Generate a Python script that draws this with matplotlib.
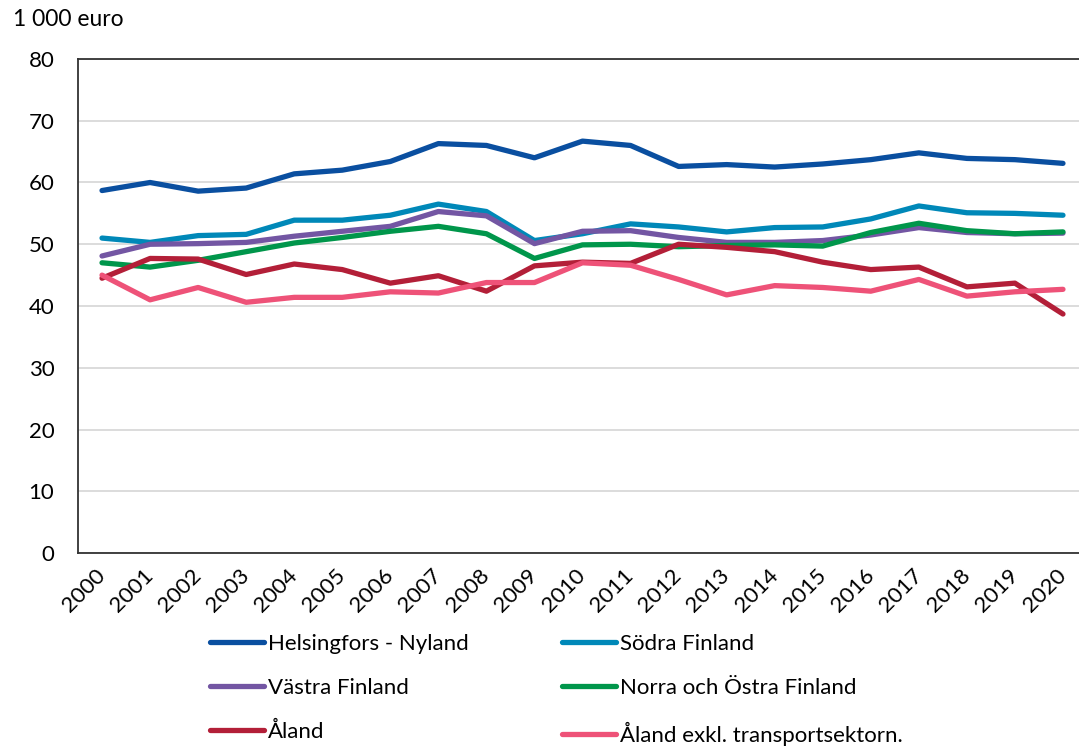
import numpy as np
import matplotlib
matplotlib.use("Agg")
import matplotlib.pyplot as plt

plt.rcParams['font.family'] = ['Lato', 'DejaVu Sans']

years = list(range(2000, 2021))

helsingfors = [58.7, 60.0, 58.6, 59.1, 61.4, 62.0, 63.4, 66.3, 66.0, 64.0, 66.7,
               66.0, 62.6, 62.9, 62.5, 63.0, 63.7, 64.8, 63.9, 63.7, 63.1]
sodra = [51.0, 50.3, 51.4, 51.6, 53.9, 53.9, 54.7, 56.5, 55.3, 50.6, 51.7,
         53.3, 52.8, 52.0, 52.7, 52.8, 54.1, 56.2, 55.1, 55.0, 54.7]
vastra = [48.1, 50.0, 50.1, 50.3, 51.3, 52.1, 52.9, 55.3, 54.6, 50.1, 52.1,
          52.2, 51.1, 50.3, 50.3, 50.6, 51.5, 52.7, 51.9, 51.7, 51.8]
norra = [47.0, 46.3, 47.4, 48.8, 50.2, 51.1, 52.1, 52.9, 51.7, 47.7, 49.9,
         50.0, 49.6, 49.8, 49.9, 49.7, 51.9, 53.4, 52.2, 51.7, 52.0]
aland = [44.5, 47.7, 47.6, 45.1, 46.8, 45.9, 43.7, 44.9, 42.4, 46.5, 47.1,
         46.9, 50.0, 49.5, 48.8, 47.1, 45.9, 46.3, 43.1, 43.7, 38.7]
aland_exkl = [45.0, 41.0, 43.0, 40.6, 41.4, 41.4, 42.3, 42.1, 43.8, 43.8, 47.0,
              46.6, 44.3, 41.8, 43.3, 43.0, 42.4, 44.3, 41.6, 42.3, 42.7]

series = [
    ("Helsingfors - Nyland", helsingfors, "#0a4fa0"),
    ("Södra Finland", sodra, "#0088b8"),
    ("Västra Finland", vastra, "#7356a3"),
    ("Norra och Östra Finland", norra, "#00964b"),
    ("Åland", aland, "#b31f38"),
    ("Åland exkl. transportsektorn.", aland_exkl, "#ee5278"),
]

fig = plt.figure(figsize=(10.79, 7.47), dpi=100)
ax = fig.add_axes([78 / 1079, 1 - 553 / 747, (1087 - 78) / 1079, (553 - 59) / 747])

x = np.arange(len(years))
handles = {}
for name, vals, col in series:
    ln, = ax.plot(x, vals, color=col, lw=3.8, solid_capstyle='round',
                  solid_joinstyle='round', label=name)
    handles[name] = ln

ax.set_xlim(-0.5, len(years) - 0.5)
ax.set_ylim(0, 80)
ax.set_yticks(range(0, 81, 10))
ax.set_xticks(x)
ax.set_xticklabels([str(y) for y in years], rotation=45, ha='right',
                   va='center', rotation_mode='anchor')
ax.tick_params(axis='both', length=0, labelsize=16, colors='black')
ax.tick_params(axis='y', pad=17)
ax.tick_params(axis='x', pad=14)
ax.grid(axis='y', color='#d9d9d9', lw=1.3)
ax.set_axisbelow(True)
for s in ax.spines.values():
    s.set_color('#333333')
    s.set_linewidth(1.3)

fig.text(13 / 1079, 1 - 20 / 747, "1 000 euro", fontsize=16.5, va='center', ha='left')

# legend fills column-wise, so reorder to get the row layout of the original
order = ["Helsingfors - Nyland", "Västra Finland", "Åland",
         "Södra Finland", "Norra och Östra Finland", "Åland exkl. transportsektorn."]
fig.legend([handles[n] for n in order], order, ncol=2, loc='upper left',
           bbox_to_anchor=(210 / 1079, 1 - 634 / 747), frameon=False, fontsize=16,
           handlelength=2.45, handletextpad=0.15, labelspacing=1.07, columnspacing=4.2,
           borderaxespad=0, borderpad=0)

fig.savefig("out.png", dpi=100)
